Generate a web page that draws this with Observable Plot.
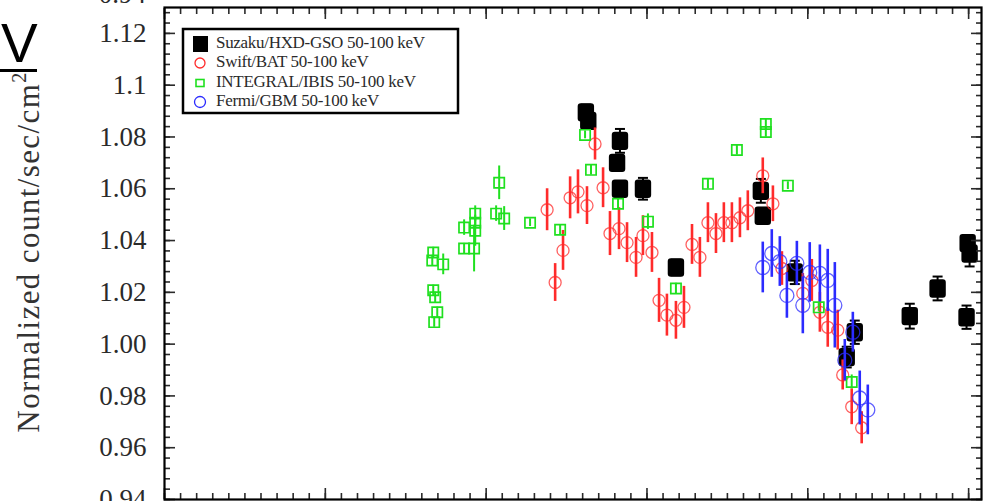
<!DOCTYPE html>
<html>
<head>
<meta charset="utf-8">
<script src="https://cdn.jsdelivr.net/npm/d3@7"></script>
<script src="https://cdn.jsdelivr.net/npm/@observablehq/plot@0.6"></script>
<style>
  html, body { margin: 0; padding: 0; background: #fff; }
  #chart { position: relative; width: 986px; height: 501px; overflow: hidden; }
</style>
</head>
<body>
<div id="chart"></div>
<script>
// Suzaku/HXD-GSO 50-100 keV
const suzakuMJD  = [53620, 53635, 53832, 53814, 53832, 53975, 54180, 54708, 54720, 54919, 55242, 55292, 55634, 55807, 55994, 56006, 55987];
const suzakuRate = [1.0895, 1.0862, 1.0785, 1.0700, 1.0600, 1.0600, 1.0296, 1.0592, 1.0496, 1.0277, 0.9950, 1.0046, 1.0108, 1.0215, 1.0390, 1.0350, 1.0104];
const suzakuErr  = [0.003, 0.003, 0.0046, 0.003, 0.003, 0.0042, 0.003, 0.0046, 0.003, 0.0045, 0.004, 0.0045, 0.0048, 0.0046, 0.003, 0.005, 0.0045];

// Swift/BAT 50-100 keV
const swiftMJD  = [53379, 53429, 53478, 53522, 53571, 53627, 53677, 53727, 53770, 53826, 53876, 53932, 53975, 54031, 54075, 54124, 54180, 54230, 54280, 54329, 54379, 54429, 54478, 54528, 54578, 54627, 54720, 54783, 54839, 54969, 55025, 55075, 55124, 55186, 55217, 55273, 55335];
const swiftRate = [1.0519, 1.0238, 1.0362, 1.0565, 1.0588, 1.0535, 1.0773, 1.0604, 1.0427, 1.0446, 1.0392, 1.0335, 1.0419, 1.0354, 1.0169, 1.0112, 1.0092, 1.0142, 1.0385, 1.0335, 1.0469, 1.0427, 1.0469, 1.0469, 1.0488, 1.0515, 1.0650, 1.0542, 1.0292, 1.0196, 1.0246, 1.0123, 1.0065, 1.0054, 0.9881, 0.9758, 0.9677];
const swiftErr  = [0.0081, 0.0073, 0.0077, 0.0081, 0.0085, 0.0073, 0.0062, 0.0077, 0.0085, 0.0081, 0.0077, 0.0077, 0.0077, 0.0077, 0.0085, 0.0081, 0.0073, 0.0081, 0.0077, 0.0077, 0.0077, 0.0077, 0.0077, 0.0077, 0.0077, 0.0077, 0.0069, 0.0069, 0.0065, 0.0077, 0.0081, 0.0077, 0.0077, 0.0077, 0.0058, 0.0069, 0.0062];

// INTEGRAL/IBIS 50-100 keV
const integralMJD  = [52671, 52665, 52733, 52671, 52683, 52696, 52677, 52863, 52863, 52932, 52932, 52932, 52925, 53081, 53062, 53112, 53273, 53460, 53615, 53652, 53820, 54006, 54180, 54379, 54559, 54739, 54739, 54876, 55068, 55273];
const integralRate = [1.0354, 1.0323, 1.0308, 1.0208, 1.0181, 1.0123, 1.0085, 1.0450, 1.0369, 1.0504, 1.0469, 1.0438, 1.0369, 1.0623, 1.0504, 1.0485, 1.0469, 1.0442, 1.0808, 1.0673, 1.0542, 1.0473, 1.0215, 1.0619, 1.0750, 1.0850, 1.0819, 1.0612, 1.0142, 0.9854];
const integralErr  = [0.002, 0.002, 0.004, 0.002, 0.002, 0.002, 0.002, 0.003, 0.002, 0.003, 0.002, 0.006, 0.009, 0.0065, 0.003, 0.0046, 0.0015, 0.002, 0.0015, 0.002, 0.002, 0.003, 0.002, 0.002, 0.002, 0.002, 0.002, 0.0015, 0.0015, 0.0027];

// Fermi/GBM 50-100 keV
const fermiMJD  = [54720, 54776, 54826, 54870, 54932, 54969, 55012, 55075, 55124, 55168, 55230, 55280, 55323, 55373];
const fermiRate = [1.0296, 1.0350, 1.0319, 1.0188, 1.0312, 1.0150, 1.0277, 1.0273, 1.0246, 1.0150, 0.9938, 1.0046, 0.9792, 0.9746];
const fermiErr  = [0.0098, 0.0092, 0.0096, 0.0088, 0.0085, 0.011, 0.0115, 0.011, 0.012, 0.0165, 0.008, 0.0077, 0.0104, 0.0096];

// Axis ticks and labels
const yTickValues = [0.94, 0.96, 0.98, 1.00, 1.02, 1.04, 1.06, 1.08, 1.10, 1.12];
const yTickLabels = ["0.94", "0.96", "0.98", "1.00", "1.02", "1.04", "1.06", "1.08", "1.1", "1.12"];
const legendLabels = ["Suzaku/HXD-GSO 50-100 keV", "Swift/BAT 50-100 keV", "INTEGRAL/IBIS 50-100 keV", "Fermi/GBM 50-100 keV"];
const yTitle = "Normalized count/sec/cm";

const series = (t, v, e) => t.map((d, i) => ({t: d, v: v[i], e: e[i]}));
const suzaku = series(suzakuMJD, suzakuRate, suzakuErr);
const swift = series(swiftMJD, swiftRate, swiftErr);
const integral = series(integralMJD, integralRate, integralErr);
const fermi = series(fermiMJD, fermiRate, fermiErr);

const xMajor = d3.range(51000, 56001, 1000);
const xMinor = d3.range(51000, 56081, 100);
const yMinor = d3.range(0, 48).map(i => +(0.94 + i * 0.004).toFixed(3));

const RED = "#ff2b2b", GREEN = "#1fe01f", BLUE = "#2b2bff";

// rounded block marker for the Suzaku points
const blockSymbol = {
  draw(ctx) {
    const w = 8.2, h = 9.2, r = 3;
    ctx.moveTo(-w + r, -h);
    ctx.lineTo(w - r, -h);
    ctx.arcTo(w, -h, w, -h + r, r);
    ctx.lineTo(w, h - r);
    ctx.arcTo(w, h, w - r, h, r);
    ctx.lineTo(-w + r, h);
    ctx.arcTo(-w, h, -w, h - r, r);
    ctx.lineTo(-w, -h + r);
    ctx.arcTo(-w, -h, -w + r, -h, r);
    ctx.closePath();
  }
};
// short horizontal cap at the end of an error bar
const capSymbol = {
  draw(ctx) { ctx.moveTo(-5, 0); ctx.lineTo(5, 0); }
};

const noText = () => "";
const tickAxes = [];
for (const anchor of ["left", "right"]) {
  tickAxes.push(Plot.axisY(yMinor, {anchor, tickSize: -6, tickFormat: noText, label: null, strokeWidth: 1.6}));
  tickAxes.push(Plot.axisY(yTickValues, {anchor, tickSize: -11, tickFormat: noText, label: null, strokeWidth: 1.6}));
}
for (const anchor of ["top", "bottom"]) {
  tickAxes.push(Plot.axisX(xMinor, {anchor, tickSize: -6, tickFormat: noText, label: null, strokeWidth: 1.6}));
  tickAxes.push(Plot.axisX(xMajor, {anchor, tickSize: -11, tickFormat: noText, label: null, strokeWidth: 1.6}));
}

const chart = Plot.plot({
  width: 986,
  height: 501,
  marginLeft: 164,
  marginRight: 5,
  marginTop: 7,
  marginBottom: 2,
  style: {fontFamily: "'Liberation Serif', 'Times New Roman', serif", fontSize: "27px", color: "#2a2a2a", background: "transparent"},
  x: {domain: [51000, 56080]},
  y: {domain: [0.94, 1.13]},
  marks: [
    // Suzaku
    Plot.ruleX(suzaku, {x: "t", y1: d => d.v - d.e, y2: d => d.v + d.e, stroke: "black", strokeWidth: 2}),
    Plot.dot(suzaku, {x: "t", y: d => d.v + d.e, symbol: capSymbol, stroke: "black", fill: "none", strokeWidth: 2}),
    Plot.dot(suzaku, {x: "t", y: d => d.v - d.e, symbol: capSymbol, stroke: "black", fill: "none", strokeWidth: 2}),
    Plot.dot(suzaku, {x: "t", y: "v", symbol: blockSymbol, fill: "black", stroke: "none"}),
    // Swift
    Plot.ruleX(swift, {x: "t", y1: d => d.v - d.e, y2: d => d.v + d.e, stroke: RED, strokeWidth: 2.6}),
    Plot.dot(swift, {x: "t", y: "v", r: 6, stroke: RED, strokeOpacity: 0.75, strokeWidth: 1.3, fill: "none"}),
    // INTEGRAL
    Plot.ruleX(integral, {x: "t", y1: d => d.v - d.e, y2: d => d.v + d.e, stroke: GREEN, strokeWidth: 2}),
    Plot.dot(integral, {x: "t", y: "v", symbol: "square", r: 5.8, stroke: GREEN, strokeWidth: 1.7, fill: "none"}),
    // Fermi
    Plot.ruleX(fermi, {x: "t", y1: d => d.v - d.e, y2: d => d.v + d.e, stroke: BLUE, strokeWidth: 2.6}),
    Plot.dot(fermi, {x: "t", y: "v", r: 7, stroke: BLUE, strokeOpacity: 0.75, strokeWidth: 1.3, fill: "none"}),
    // axes
    ...tickAxes,
    Plot.axisY(yTickValues, {anchor: "left", tickSize: 0, tickPadding: 18, label: null,
      tickFormat: d => yTickLabels[yTickValues.findIndex(v => Math.abs(v - d) < 1e-9)]}),
    Plot.frame({stroke: "black", strokeWidth: 2.2})
  ]
});

document.getElementById("chart").appendChild(chart);

const svg = d3.select(chart);
const serif = "'Liberation Serif', 'Times New Roman', serif";

// tick label of the panel above, cut by the top edge
svg.append("text")
  .attr("x", 146).attr("y", 3)
  .attr("text-anchor", "end")
  .attr("font-family", serif).attr("font-size", 27).attr("fill", "#2a2a2a")
  .text("0.94");

// y-axis title
const title = svg.append("text")
  .attr("transform", "translate(39,252) rotate(-90)")
  .attr("text-anchor", "middle")
  .attr("font-family", serif).attr("font-size", 31)
  .attr("letter-spacing", 1.4)
  .attr("fill", "#333");
title.append("tspan").text(yTitle);
title.append("tspan").attr("font-size", 20).attr("dy", -13).text("2");

// unit fragment at the top-left corner
svg.append("text")
  .attr("x", 1).attr("y", 62)
  .attr("text-anchor", "start")
  .attr("font-family", "'Liberation Sans', Arial, sans-serif").attr("font-size", 55)
  .attr("fill", "black")
  .text("V");
svg.append("rect").attr("x", 0).attr("y", 69).attr("width", 37).attr("height", 3).attr("fill", "black");

// legend
const lg = svg.append("g").attr("text-anchor", "start");
lg.append("rect").attr("x", 183).attr("y", 29).attr("width", 275).attr("height", 84)
  .attr("fill", "white").attr("stroke", "black").attr("stroke-width", 2.5);
const rowY = [44, 63, 83, 102];
lg.append("rect").attr("x", 193).attr("y", rowY[0] - 8).attr("width", 15).attr("height", 16).attr("fill", "black");
lg.append("circle").attr("cx", 200).attr("cy", rowY[1]).attr("r", 5).attr("fill", "none").attr("stroke", RED).attr("stroke-width", 1.3);
lg.append("rect").attr("x", 196).attr("y", rowY[2] - 3.5).attr("width", 8).attr("height", 7).attr("fill", "none").attr("stroke", GREEN).attr("stroke-width", 1.6);
lg.append("circle").attr("cx", 200).attr("cy", rowY[3]).attr("r", 5.5).attr("fill", "none").attr("stroke", BLUE).attr("stroke-width", 1.3);
legendLabels.forEach((s, i) => {
  lg.append("text")
    .attr("x", 216).attr("y", rowY[i] + 4)
    .attr("text-anchor", "start")
    .attr("font-family", serif).attr("font-size", 17).attr("letter-spacing", -0.3)
    .attr("fill", "#2a2a2a")
    .text(s);
});
</script>
</body>
</html>
